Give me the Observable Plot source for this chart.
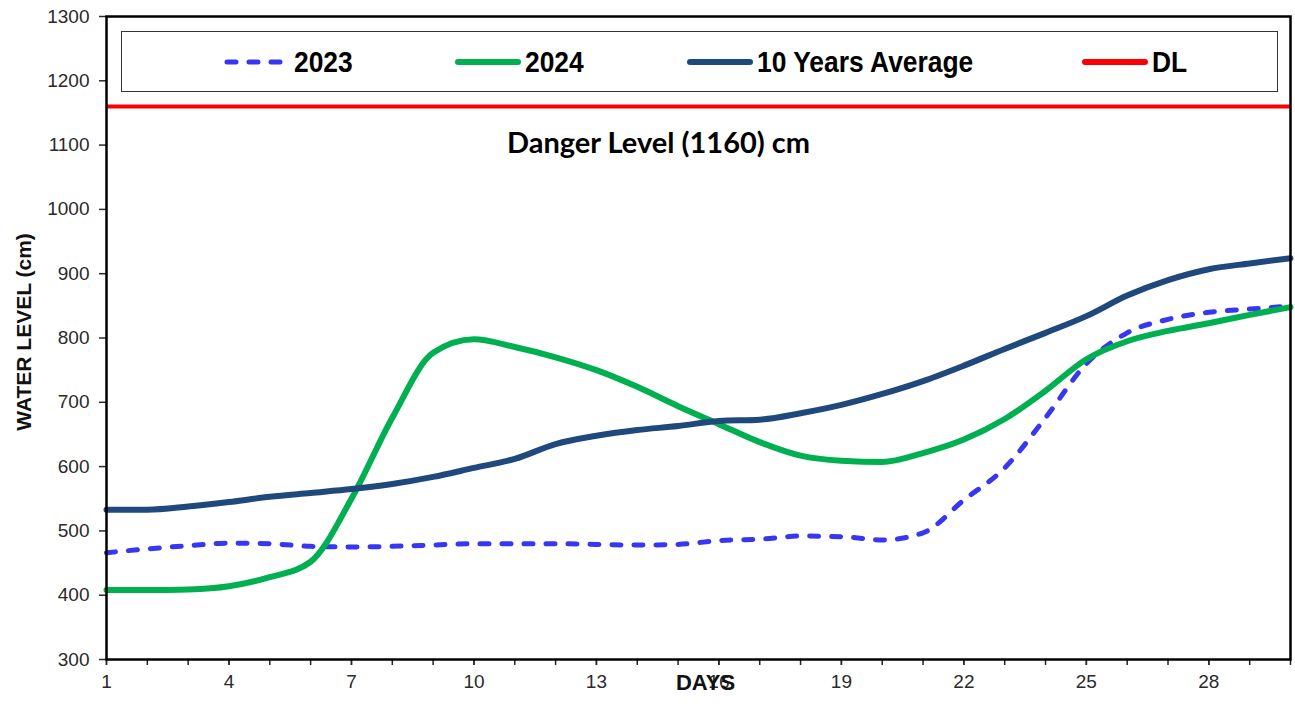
<!DOCTYPE html>
<html>
<head>
<meta charset="utf-8">
<script src="https://cdn.jsdelivr.net/npm/d3@7"></script>
<script src="https://cdn.jsdelivr.net/npm/@observablehq/plot@0.6"></script>
<style>
  html, body { margin: 0; padding: 0; background: #fff; }
  #wrap { position: relative; width: 1295px; height: 709px; font-family: "Liberation Sans", Arial, sans-serif; }
  #legend { position: absolute; left: 121px; top: 31px; width: 1155px; height: 59px; border: 1.5px solid #333; background: #fff; }
  .item { position: absolute; top: 0; height: 59px; display: flex; align-items: center; }
  .item svg { display: block; }
  .item span { display: inline-block; font-family: "Liberation Sans", Arial, sans-serif; font-weight: bold; font-size: 30px; color: #000; margin-left: 3px; transform: scaleX(0.88); transform-origin: left center; white-space: nowrap; }
</style>
</head>
<body>
<div id="wrap">
  <div id="chart"></div>
  <div id="legend"></div>
</div>
<script>
// ---- data ----
const days = [1,2,3,4,5,6,7,8,9,10,11,12,13,14,15,16,17,18,19,20,21,22,23,24,25,26,27,28,29,30];
const level2023 = [466,472,477,481,480,476,475,476,478,480,480,480,479,478,479,485,487,492,491,486,497,548,598,676,760,808,829,840,845,850];
const level2024 = [408,408,409,414,428,452,550,676,777,798,786,770,750,724,694,666,638,617,609,607,621,642,674,718,767,795,811,823,836,848];
const level10yr = [533,533,538,545,553,559,565,573,584,598,612,635,648,657,663,671,673,683,696,713,733,757,783,808,834,866,890,907,916,924];
const dangerLevel = 1160;
const seriesNames = ["2023", "2024", "10 Years Average", "DL"];
const seriesColors = ["#3737f2", "#00b050", "#1f497d", "#ff0000"];
const yTicks = [300,400,500,600,700,800,900,1000,1100,1200,1300];
const xLabelTicks = [1,4,7,10,13,16,19,22,25,28];
const dangerText = "Danger Level (1160) cm";
const yTitle = "WATER LEVEL (cm)";
const xTitle = "DAYS";

const toRows = (vals) => days.map((d, i) => ({day: d, level: vals[i]}));
const rows2023 = toRows(level2023);
const rows2024 = toRows(level2024);
const rows10yr = toRows(level10yr);

const chart = Plot.plot({
  width: 1295,
  height: 709,
  marginLeft: 106,
  marginRight: 5,
  marginTop: 16,
  marginBottom: 50,
  style: {fontFamily: "'Liberation Sans', Arial, sans-serif", color: "#222", background: "#fff", overflow: "visible"},
  x: {domain: [1, 30]},
  y: {domain: [300, 1300]},
  marks: [
    Plot.axisY({ticks: yTicks, tickSize: 7, tickPadding: 10, tickFormat: d => String(d), label: null, strokeWidth: 1.5, color: "#2a2a2a", fontSize: 19}),
    Plot.axisX({ticks: days, tickSize: 6, tickFormat: () => "", label: null, strokeWidth: 1.5, color: "#222"}),
    Plot.axisX({ticks: xLabelTicks, tickSize: 6, tickPadding: 9, tickFormat: d => String(d), label: null, strokeWidth: 1.5, color: "#2a2a2a", fontSize: 19}),
    Plot.line(rows2023, {x: "day", y: "level", stroke: seriesColors[0], strokeWidth: 5, strokeDasharray: "9,13", strokeLinecap: "round", curve: "monotone-x"}),
    Plot.line(rows2024, {x: "day", y: "level", stroke: seriesColors[1], strokeWidth: 6, curve: "monotone-x"}),
    Plot.line(rows10yr, {x: "day", y: "level", stroke: seriesColors[2], strokeWidth: 6, curve: "monotone-x"}),
    Plot.ruleY([dangerLevel], {stroke: seriesColors[3], strokeWidth: 4}),
    Plot.text([dangerLevel], {y: d => d, text: () => dangerText, dx: -40, dy: 37, fontFamily: "Lato, 'Open Sans', sans-serif", fontWeight: "bold", fontSize: 29, fill: "#000"}),
    Plot.text([yTitle], {frameAnchor: "left", text: d => d, rotate: -90, textAnchor: "middle", dx: -82, dy: -6, fontWeight: "bold", fontSize: 21, fill: "#111"}),
    Plot.text([xTitle], {frameAnchor: "bottom", text: d => d, textAnchor: "middle", dx: 7, dy: 30, fontWeight: "bold", fontSize: 22, fill: "#111"}),
    Plot.frame({stroke: "#000", strokeWidth: 2.5})
  ]
});
document.getElementById("chart").appendChild(chart);

// ---- legend (HTML, inside the plot area like the original) ----
const legendLeft = [101, 332, 564, 959];
const legend = document.getElementById("legend");
seriesNames.forEach((name, i) => {
  const item = document.createElement("div");
  item.className = "item";
  item.style.left = legendLeft[i] + "px";
  const dash = i === 0 ? 'stroke-dasharray="9,13"' : "";
  item.innerHTML = `<svg width="68" height="12"><line x1="4" x2="64" y1="6" y2="6" stroke="${seriesColors[i]}" stroke-width="${i === 0 ? 5 : 6}" stroke-linecap="round" ${dash}/></svg><span>${name}</span>`;
  legend.appendChild(item);
});
</script>
</body>
</html>
